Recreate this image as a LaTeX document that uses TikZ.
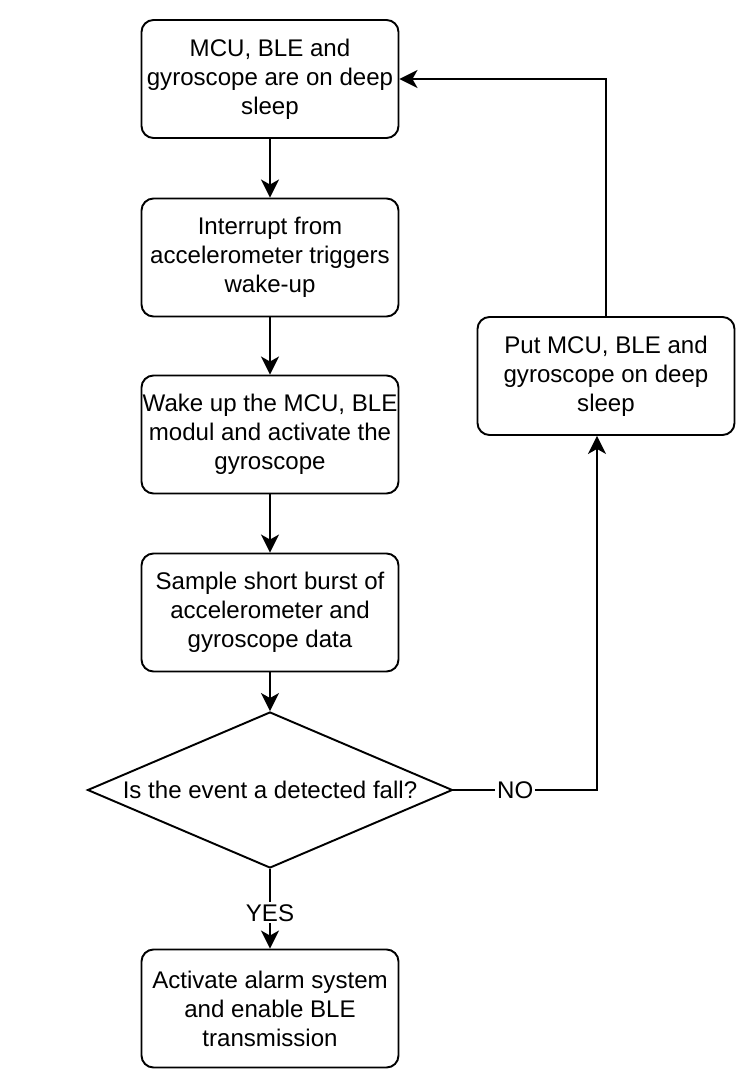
\documentclass[tikz,border=0pt]{standalone}
\usepackage{fontspec}
\setmainfont{Liberation Sans}
\usetikzlibrary{arrows.meta,positioning,calc,shapes.geometric}

\begin{document}
\begin{tikzpicture}[>={Stealth[length=3.6mm,width=3.6mm,inset=1mm]}, line width=1.1pt,
            x=0.2mm, y=-0.2mm,
            every node/.style={font=\fontsize{13.7}{16.5}\selectfont},
            box/.style={draw, rounded corners=2.4mm, minimum width=51.4mm, minimum height=23.6mm, align=center, inner sep=0pt},
            test/.style={draw, diamond, aspect=2.34, minimum width=73mm, minimum height=31.2mm, inner sep=0pt},
            lbl/.style={fill=white, inner sep=1pt}]
            \useasboundingbox (0,0) rectangle (750,1080);

            \node[box] (sleep) at (270,79) {MCU, BLE and\\gyroscope are on deep\\sleep};
            \node[box] (irq) at (270,257.5) {Interrupt from\\accelerometer triggers\\wake-up};
            \node[box] (wake) at (270,434.5) {Wake up the MCU, BLE\\modul and activate the\\gyroscope};
            \node[box] (sample) at (270,612.5) {Sample short burst of\\accelerometer and\\gyroscope data};
            \node[test] (fall) at (270,790) {Is the event a detected fall?};
            \node[box] (alarm) at (270,1008.5) {Activate alarm system\\and enable BLE\\transmission};
            \node[box] (putsleep) at (606,376) {Put MCU, BLE and\\gyroscope on deep\\sleep};
            \coordinate (nobot) at ([xshift=-1.8mm]putsleep.south);

            \draw[->] (sleep) -- (irq);
            \draw[->] (irq) -- (wake);
            \draw[->] (wake) -- (sample);
            \draw[->] (sample) -- (fall);
            \draw[->] (fall) -- node[lbl, pos=0.55] {YES} (alarm);
            \draw[->] (fall.east) -- node[lbl, pos=0.43] {NO} (fall.east -| nobot) -- (nobot);
            \draw[->] (putsleep.north) |- (sleep.east);
        \end{tikzpicture}
\end{document}
